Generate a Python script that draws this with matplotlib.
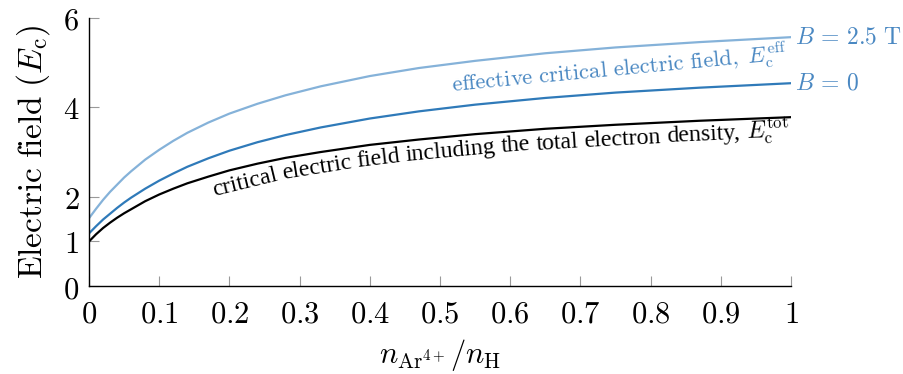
import numpy as np
import matplotlib
matplotlib.use("Agg")
import matplotlib.pyplot as plt

plt.rcParams['mathtext.fontset'] = 'cm'
plt.rcParams['font.family'] = 'serif'
plt.rcParams['font.serif'] = ['DejaVu Serif']

# Ar4+ fraction and critical fields (in units of E_c)
frac = [0, 0.01, 0.02, 0.03, 0.04, 0.05, 0.06, 0.08, 0.1, 0.12, 0.14, 0.17,
        0.2, 0.24, 0.28, 0.33, 0.4, 0.47, 0.55, 0.65, 0.75, 0.87, 1.0]
E_tot = [1.00, 1.16, 1.30, 1.42, 1.53, 1.63, 1.72, 1.90, 2.05, 2.18, 2.30, 2.45,
         2.59, 2.74, 2.87, 3.00, 3.16, 3.28, 3.40, 3.52, 3.61, 3.70, 3.78]
E_eff_B0 = [1.18, 1.34, 1.49, 1.62, 1.75, 1.87, 1.98, 2.18, 2.36, 2.52, 2.67, 2.86,
            3.03, 3.22, 3.38, 3.55, 3.75, 3.91, 4.06, 4.21, 4.33, 4.44, 4.54]
E_eff_B25 = [1.52, 1.73, 1.93, 2.11, 2.27, 2.43, 2.57, 2.83, 3.05, 3.25, 3.43, 3.66,
             3.86, 4.08, 4.27, 4.47, 4.70, 4.88, 5.04, 5.21, 5.34, 5.46, 5.57]

xticks = [0, 0.1, 0.2, 0.3, 0.4, 0.5, 0.6, 0.7, 0.8, 0.9, 1]
yticks = [0, 1, 2, 4, 6]

light = '#85b2d9'
mid = '#2f7ab9'
txtblue = '#4a88c2'

fig = plt.figure(figsize=(9.04, 3.74), dpi=100)
ax = fig.add_axes([0.0985, 0.235, 0.7765, 0.717])

ax.plot(frac, E_eff_B25, color=light, lw=1.6)
ax.plot(frac, E_eff_B0, color=mid, lw=1.6)
ax.plot(frac, E_tot, color='black', lw=1.6)

ax.set_xlim(0, 1)
ax.set_ylim(0, 6)
ax.set_xticks(xticks)
ax.set_xticklabels([r'$%g$' % t for t in xticks])
ax.set_yticks(yticks)
ax.set_yticklabels([r'$%g$' % t for t in yticks])
ax.tick_params(direction='in', length=7.5, width=0.8, color='#999999',
               labelsize=22)
ax.tick_params(axis='x', pad=9)
ax.tick_params(axis='y', pad=7)
for s in ['top', 'right']:
    ax.spines[s].set_visible(False)
for s in ['left', 'bottom']:
    ax.spines[s].set_linewidth(1.0)

ax.set_ylabel(r'$\mathrm{Electric\ field}\ (E_\mathrm{c})$', fontsize=24, labelpad=8)
ax.set_xlabel(r'$n_{\mathrm{Ar}^{4+}}/n_\mathrm{H}$', fontsize=22, labelpad=5)

# curve labels
ax.text(1.005, E_eff_B25[-1], r'$B\,=\,2.5\ \mathrm{T}$', color=txtblue,
        fontsize=17, va='center', ha='left')
ax.text(1.005, E_eff_B0[-1], r'$B\,=\,0$', color=txtblue,
        fontsize=17, va='center', ha='left')
ax.text(0.517, 4.34, r'$\mathrm{effective\ critical\ electric\ field},\ E_\mathrm{c}^\mathrm{eff}$',
        color=txtblue, fontsize=16.3, rotation=5.4, rotation_mode='anchor',
        ha='left', va='baseline')


def text_along(ax, xs, ys, x0, words, offset, **kw):
    # put words one by one below the curve, each turned to follow it
    fig = ax.figure
    fig.canvas.draw()
    r = fig.canvas.get_renderer()
    pts = ax.transData.transform(np.column_stack([xs, ys]))
    seg = np.hypot(np.diff(pts[:, 0]), np.diff(pts[:, 1]))
    arc = np.concatenate([[0], np.cumsum(seg)])
    start = ax.transData.transform((x0, np.interp(x0, xs, ys)))
    s = np.interp(start[0], pts[:, 0], arc)

    def at(s):
        return np.array([np.interp(s, arc, pts[:, 0]), np.interp(s, arc, pts[:, 1])])

    for w in words:
        t = ax.text(0, 0, w + ' ', **kw)
        width = t.get_window_extent(r).width
        t.remove()
        p0, p1 = at(s), at(s + width)
        d = p1 - p0
        ang = np.degrees(np.arctan2(d[1], d[0]))
        n = np.array([d[1], -d[0]]) / np.hypot(*d)
        p = p0 + n * offset
        ax.text(p[0], p[1], w, transform=None, rotation=ang,
                rotation_mode='anchor', ha='left', va='baseline', **kw)
        s += width


words = 'critical electric field including the total electron density,'.split()
words.append(r'$E_\mathrm{c}^\mathrm{tot}$')
text_along(ax, frac, E_tot, 0.172, words, 20,
           family='Liberation Serif', fontsize=17.2)

fig.savefig('out.png', dpi=100)
